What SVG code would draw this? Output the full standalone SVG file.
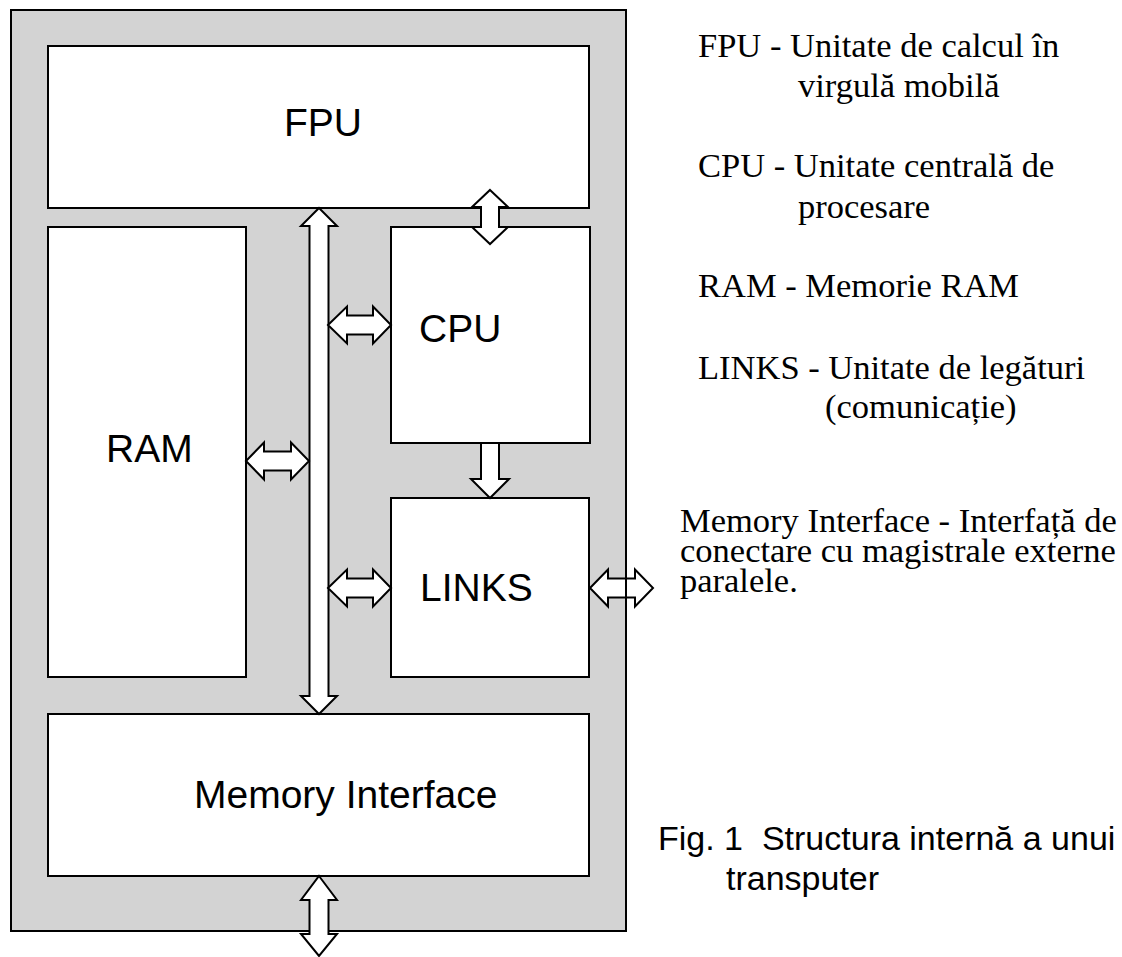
<svg xmlns="http://www.w3.org/2000/svg" width="1122" height="957" viewBox="0 0 1122 957">
<style>
.box{fill:#fff;stroke:#000;stroke-width:2}
.outer{fill:#d3d3d3;stroke:#000;stroke-width:2}
.arr{fill:#fff;stroke:#000;stroke-width:2;stroke-linejoin:miter}
.lbl{font-family:"Liberation Sans",Arial,sans-serif;font-size:39px;fill:#000}
.leg{font-family:"Liberation Serif","Times New Roman",serif;font-size:34.5px;fill:#000}
.cap{font-family:"Liberation Sans",Arial,sans-serif;font-size:34px;fill:#000}
</style>
<rect width="1122" height="957" fill="#fff"/>
<g id="transputer">
<rect class="outer" x="11" y="10" width="615" height="921"/>
</g>
<g id="fpu">
<rect class="box" x="48" y="46" width="541" height="162"/>
<text class="lbl" x="284" y="136">FPU</text>
</g>
<g id="ram">
<rect class="box" x="48" y="227" width="198" height="450"/>
<text class="lbl" x="106" y="462">RAM</text>
</g>
<g id="cpu">
<rect class="box" x="391" y="227" width="199" height="216"/>
<text class="lbl" x="419" y="342">CPU</text>
</g>
<g id="links">
<rect class="box" x="391" y="498" width="198" height="179"/>
<text class="lbl" x="420" y="601">LINKS</text>
</g>
<g id="memory-interface">
<rect class="box" x="48" y="714" width="541" height="162"/>
<text class="lbl" x="194" y="808">Memory Interface</text>
</g>
<g id="connectors">
<polygon class="arr" points="319,208 337,226 328.5,226 328.5,696 337,696 319,714 301,696 309.5,696 309.5,226 301,226"/>
<polygon class="arr" points="490,190 508,207 499,207 499,227 508,227 490,244 472,227 481,227 481,207 472,207"/>
<polygon class="arr" points="319,876 337,900 328.5,900 328.5,934 337,934 319,956 301,934 309.5,934 309.5,900 301,900"/>
<polygon class="arr" points="481,443 499,443 499,479 509,479 490,498 471,479 481,479"/>
<polygon class="arr" points="246,461 264,442.5 264,451.5 291,451.5 291,442.5 309,461 291,479.5 291,470.5 264,470.5 264,479.5"/>
<polygon class="arr" points="328,325 347,306.5 347,315.5 373,315.5 373,306.5 391,325 373,343.5 373,334.5 347,334.5 347,343.5"/>
<polygon class="arr" points="328,588 347,569.5 347,578.5 373,578.5 373,569.5 391,588 373,606.5 373,597.5 347,597.5 347,606.5"/>
<polygon class="arr" points="590,588 608,569.5 608,578.5 635,578.5 635,569.5 653,588 635,606.5 635,597.5 608,597.5 608,606.5"/>
<line x1="626" y1="566" x2="626" y2="610" stroke="#000" stroke-width="2"/>
</g>
<g id="legend">
<text class="leg" x="698" y="57">FPU - Unitate de calcul în</text>
<text class="leg" x="798" y="97">virgulă mobilă</text>
<text class="leg" x="698" y="177">CPU - Unitate centrală de</text>
<text class="leg" x="798" y="218">procesare</text>
<text class="leg" x="698" y="297">RAM - Memorie RAM</text>
<text class="leg" x="698" y="379">LINKS - Unitate de legături</text>
<text class="leg" x="825" y="418">(comunicație)</text>
<text class="leg" x="680" y="532">Memory Interface - Interfață de</text>
<text class="leg" x="680" y="562">conectare cu magistrale externe</text>
<text class="leg" x="680" y="592">paralele.</text>
</g>
<g id="caption">
<text class="cap" x="658" y="850" xml:space="preserve">Fig. 1  Structura internă a unui</text>
<text class="cap" x="726" y="890">transputer</text>
</g>
</svg>
